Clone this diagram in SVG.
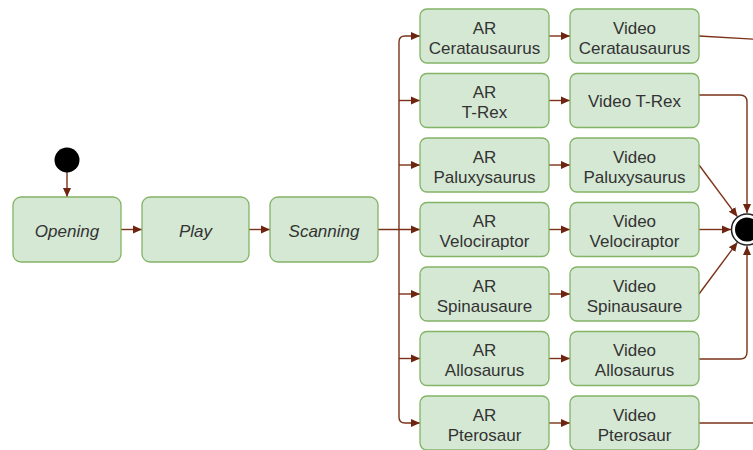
<svg xmlns="http://www.w3.org/2000/svg" width="753" height="450" viewBox="0 0 753 450">
<style>
.n{fill:#d5e8d4;stroke:#82b366;stroke-width:1.3}
.t{font-family:"Liberation Sans",Arial,sans-serif;font-size:17px;fill:#333;text-anchor:middle}
.i{font-style:italic}
.e{fill:none;stroke:#7b3218;stroke-width:1.4}
.a{marker-end:url(#ah)}
</style>
<defs>
<marker id="ah" markerUnits="userSpaceOnUse" markerWidth="10" markerHeight="10" refX="9" refY="4.5" orient="auto">
<path d="M0,0.5 L9,4.5 L0,8.5 z" fill="#6e2510"/>
</marker>
</defs>
<rect width="753" height="450" fill="#fff"/>
<g id="connectors">
<path class="e a" d="M67,172 V197"/>
<path class="e a" d="M121,229.5 H142"/>
<path class="e a" d="M249,229.5 H270"/>
<path class="e a" d="M378,229.5 H420"/>
<path class="e a" d="M399,229.5 V42 Q399,36 405,36 H420"/>
<path class="e a" d="M399,229.5 V417 Q399,423 405,423 H420"/>
<path class="e a" d="M399,100.5 H420"/>
<path class="e a" d="M399,165 H420"/>
<path class="e a" d="M399,294 H420"/>
<path class="e a" d="M399,358.5 H420"/>
<path class="e a" d="M549,36 H570"/>
<path class="e a" d="M549,100.5 H570"/>
<path class="e a" d="M549,165 H570"/>
<path class="e a" d="M549,229.5 H570"/>
<path class="e a" d="M549,294 H570"/>
<path class="e a" d="M549,358.5 H570"/>
<path class="e a" d="M549,423 H570"/>
<path class="e" d="M699,36 L760,39.5"/>
<path class="e a" d="M699,95 H740 Q747,95 747,102 V213"/>
<path class="e a" d="M699,165 L737.4,216.7"/>
<path class="e a" d="M699,229.5 H731"/>
<path class="e a" d="M699,294 L737.4,242.3"/>
<path class="e a" d="M699,359 H740 Q747,359 747,352 V246"/>
<path class="e" d="M699,423 H760"/>
</g>
<g id="start"><circle cx="67" cy="160" r="12.5" fill="#000"/></g>
<g id="opening"><rect class="n" x="13" y="197" width="108" height="65" rx="8"/><text class="t i" x="67" y="236.5">Opening</text></g>
<g id="play"><rect class="n" x="142" y="197" width="107" height="65" rx="8"/><text class="t i" x="195.5" y="236.5">Play</text></g>
<g id="scanning"><rect class="n" x="270" y="197" width="108" height="65" rx="8"/><text class="t i" x="324" y="236.5">Scanning</text></g>
<g id="ar-cer"><rect class="n" x="420" y="9" width="129" height="54" rx="7"/><text class="t" x="484.5" y="33.5">AR</text><text class="t" x="484.5" y="53.5">Ceratausaurus</text></g>
<g id="ar-trex"><rect class="n" x="420" y="73.5" width="129" height="54" rx="7"/><text class="t" x="484.5" y="98">AR</text><text class="t" x="484.5" y="118">T-Rex</text></g>
<g id="ar-pal"><rect class="n" x="420" y="138" width="129" height="54" rx="7"/><text class="t" x="484.5" y="162.5">AR</text><text class="t" x="484.5" y="182.5">Paluxysaurus</text></g>
<g id="ar-vel"><rect class="n" x="420" y="202.5" width="129" height="54" rx="7"/><text class="t" x="484.5" y="227">AR</text><text class="t" x="484.5" y="247">Velociraptor</text></g>
<g id="ar-spi"><rect class="n" x="420" y="267" width="129" height="54" rx="7"/><text class="t" x="484.5" y="291.5">AR</text><text class="t" x="484.5" y="311.5">Spinausaure</text></g>
<g id="ar-all"><rect class="n" x="420" y="331.5" width="129" height="54" rx="7"/><text class="t" x="484.5" y="356">AR</text><text class="t" x="484.5" y="376">Allosaurus</text></g>
<g id="ar-pte"><rect class="n" x="420" y="396" width="129" height="54" rx="7"/><text class="t" x="484.5" y="420.5">AR</text><text class="t" x="484.5" y="440.5">Pterosaur</text></g>
<g id="v-cer"><rect class="n" x="570" y="9" width="129" height="54" rx="7"/><text class="t" x="634.5" y="33.5">Video</text><text class="t" x="634.5" y="53.5">Ceratausaurus</text></g>
<g id="v-trex"><rect class="n" x="570" y="73.5" width="129" height="54" rx="7"/><text class="t" x="634.5" y="106.5">Video T-Rex</text></g>
<g id="v-pal"><rect class="n" x="570" y="138" width="129" height="54" rx="7"/><text class="t" x="634.5" y="162.5">Video</text><text class="t" x="634.5" y="182.5">Paluxysaurus</text></g>
<g id="v-vel"><rect class="n" x="570" y="202.5" width="129" height="54" rx="7"/><text class="t" x="634.5" y="227">Video</text><text class="t" x="634.5" y="247">Velociraptor</text></g>
<g id="v-spi"><rect class="n" x="570" y="267" width="129" height="54" rx="7"/><text class="t" x="634.5" y="291.5">Video</text><text class="t" x="634.5" y="311.5">Spinausaure</text></g>
<g id="v-all"><rect class="n" x="570" y="331.5" width="129" height="54" rx="7"/><text class="t" x="634.5" y="356">Video</text><text class="t" x="634.5" y="376">Allosaurus</text></g>
<g id="v-pte"><rect class="n" x="570" y="396" width="129" height="54" rx="7"/><text class="t" x="634.5" y="420.5">Video</text><text class="t" x="634.5" y="440.5">Pterosaur</text></g>
<g id="end"><circle cx="747" cy="229.5" r="15.5" fill="#fff" stroke="#222" stroke-width="1.5"/><circle cx="747" cy="229.5" r="12" fill="#000"/></g>
</svg>
